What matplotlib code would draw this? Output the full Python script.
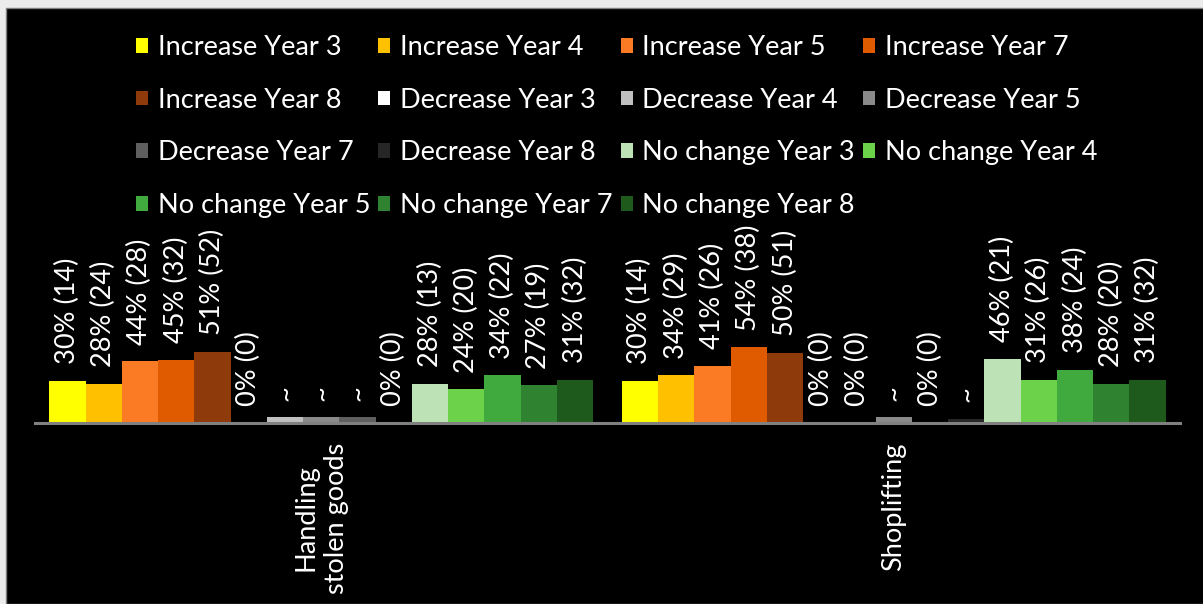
import matplotlib
matplotlib.use('Agg')
from matplotlib import pyplot as plt
from matplotlib.patches import Rectangle

categorias = ['Handling\nstolen goods', 'Shoplifting']

series = ['Increase Year 3', 'Increase Year 4', 'Increase Year 5', 'Increase Year 7', 'Increase Year 8',
          'Decrease Year 3', 'Decrease Year 4', 'Decrease Year 5', 'Decrease Year 7', 'Decrease Year 8',
          'No change Year 3', 'No change Year 4', 'No change Year 5', 'No change Year 7', 'No change Year 8']

colores = ['#ffff00', '#ffc000', '#fb7b24', '#e05a00', '#8e3a0b',
           '#ffffff', '#c0c0c0', '#8a8a8a', '#5f5f5f', '#262626',
           '#bce2b6', '#6cd24a', '#41aa3e', '#2f8230', '#1e5a1c']

# percentages per series: [handling stolen goods, shoplifting]
valores = [[30, 30], [28, 34], [44, 41], [45, 54], [51, 50],
           [0, 0], [4, 0], [4, 4], [4, 0], [0, 3],
           [28, 46], [24, 31], [34, 38], [27, 28], [31, 31]]

etiquetas = [['30% (14)', '30% (14)'], ['28% (24)', '34% (29)'], ['44% (28)', '41% (26)'],
             ['45% (32)', '54% (38)'], ['51% (52)', '50% (51)'],
             ['0% (0)', '0% (0)'], ['~', '0% (0)'], ['~', '~'], ['~', '0% (0)'], ['0% (0)', '~'],
             ['28% (13)', '46% (21)'], ['24% (20)', '31% (26)'], ['34% (22)', '38% (24)'],
             ['27% (19)', '28% (20)'], ['31% (32)', '31% (32)']]

plt.rcParams['font.family'] = ['Lato', 'DejaVu Sans']
fs = 19.5

fig = plt.figure(figsize=(12.03, 6.04), dpi=100)
fig.patch.set_facecolor('#ececec')
fondo = Rectangle((6 / 1203, 0), 1, 1 - 8 / 604, transform=fig.transFigure,
                  facecolor='black', edgecolor='#7f7f7f', lw=1, zorder=-10)
fig.patches.append(fondo)

ax = fig.add_axes([35 / 1203, 1 - 423 / 604, 1145 / 1203, 140 / 604])
ax.set_facecolor('none')

n = len(series)
ancho = 0.95 / n
x = list(range(len(categorias)))

barras = []
for i in range(n):
    pos = [xi + (i - (n - 1) / 2) * ancho for xi in x]
    b = ax.bar(pos, valores[i], width=ancho, color=colores[i], label=series[i])
    barras.append(b)
    for p, v, t in zip(pos, valores[i], etiquetas[i]):
        ax.annotate(t, (p, v), xytext=(0, 12), textcoords='offset points',
                    rotation=90, ha='center', va='bottom', color='white', fontsize=fs)

ax.set_xlim(-0.5, 1.5)
ax.set_ylim(0, 100)
ax.set_yticks([])
ax.set_xticks(x)
ax.set_xticklabels(categorias, rotation=90, color='white', fontsize=fs, linespacing=1.25)
ax.tick_params(axis='x', length=0, pad=14)
for s in ['top', 'left', 'right']:
    ax.spines[s].set_visible(False)
ax.spines['bottom'].set_color('#808080')
ax.spines['bottom'].set_linewidth(2.2)

# legend is row-major in the original, matplotlib fills by column
ncol = 4
nfil = 4
orden = []
for c in range(ncol):
    for f in range(nfil):
        k = f * ncol + c
        if k < n:
            orden.append(k)
leg = fig.legend([barras[k] for k in orden], [series[k] for k in orden], ncol=ncol,
                 loc='upper left', bbox_to_anchor=(136 / 1203, 1 - 35 / 604),
                 frameon=False, fontsize=fs, handlelength=0.45, handleheight=0.45,
                 handletextpad=0.35, columnspacing=0.3, labelspacing=1.02,
                 borderpad=0, borderaxespad=0)
for t in leg.get_texts():
    t.set_color('white')

plt.savefig('out.png', dpi=100, facecolor=fig.get_facecolor())
